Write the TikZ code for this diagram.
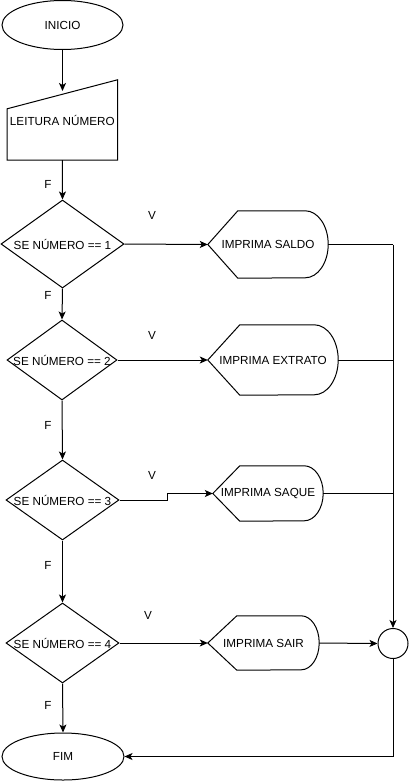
\documentclass[tikz,border=0pt]{standalone}
\usepackage{fontspec}
\setmainfont{Liberation Sans}
\usetikzlibrary{shapes.geometric,arrows.meta,calc}
\begin{document}
\begin{tikzpicture}[x=1pt,y=1pt,
  every node/.style={font=\fontsize{11.7}{14}\selectfont, text=black},
  line/.style={line width=1pt, draw=black},
  arr/.style={line, -{Stealth[length=8pt,width=7pt,inset=2pt]}},
  term/.style={ellipse, line, inner sep=0pt},
  dia/.style={diamond, line, inner sep=0pt, aspect=1.4},
  box/.style={rectangle, inner sep=0pt},
  lbl/.style={inner sep=0pt}
]
\useasboundingbox (0,0) rectangle (409,-781);

% terminals
\node[term, minimum width=121, minimum height=49] (inicio) at (62.5,-25) {INICIO};
\node[term, minimum width=122, minimum height=47] (fim) at (63,-756.5) {FIM};

% manual input
\node[box, minimum width=110, minimum height=80] (leit) at (62.3,-120) {LEITURA NÚMERO};
\draw[line] (leit.south west) -- (leit.south east) -- (leit.north east) -- ($(leit.north west)+(0,-29)$) -- cycle;
\coordinate (leitin) at (62.5,-91);

% diamonds
\node[dia, minimum width=123, minimum height=88] (d1) at (62.5,-244) {};
\node[lbl] (d1t) at (d1) {SE NÚMERO == 1};
\node[dia, minimum width=110, minimum height=80] (d2) at (62,-360) {};
\node[lbl] (d2t) at (d2) {SE NÚMERO == 2};
\node[dia, minimum width=113, minimum height=80] (d3) at (62.5,-500) {};
\node[lbl] (d3t) at (d3) {SE NÚMERO == 3};
\node[dia, minimum width=113, minimum height=80] (d4) at (62.5,-643) {};
\node[lbl] (d4t) at (d4) {SE NÚMERO == 4};

% display shapes: name, left dx, arc x radius, half height
\newcommand{\dispshape}[4]{%
  \draw[line] (#1.west) -- ($(#1.north west)+(#2,0)$) -- ($(#1.north east)+(-#3,0)$)
    arc[start angle=90, end angle=-90, x radius=#3, y radius=#4]
    -- ($(#1.south west)+(#2,0)$) -- cycle;}
\node[box, minimum width=120, minimum height=67] (p1) at (268,-244.5) {IMPRIMA SALDO};
\dispshape{p1}{30}{23}{33.5}
\node[box, minimum width=130, minimum height=70] (p2) at (273,-360) {IMPRIMA EXTRATO};
\dispshape{p2}{32}{24}{35}
\node[box, minimum width=110, minimum height=55] (p3) at (268,-493.5) {IMPRIMA SAQUE};
\dispshape{p3}{27}{19}{27.5}
\node[box, minimum width=111, minimum height=54] (p4) at (263.5,-643) {IMPRIMA SAIR};
\dispshape{p4}{29}{18}{27}

% junction circle
\node[circle, line, minimum size=30, inner sep=0pt] (junc) at (393,-643.5) {};

% labels
\node[lbl] (f0) at (48,-184.5) {F};
\node[lbl] (f1) at (48,-295) {F};
\node[lbl] (f2) at (48,-425) {F};
\node[lbl] (f3) at (48,-565) {F};
\node[lbl] (f4) at (48,-705) {F};
\node[lbl] (v1) at (152,-215) {V};
\node[lbl] (v2) at (152,-335) {V};
\node[lbl] (v3) at (152,-475) {V};
\node[lbl] (v4) at (148,-615) {V};

% helper coordinates
\coordinate (c1) at (393,-244.5);
\coordinate (c2) at (393,-360);
\coordinate (c3) at (393,-493.5);
\coordinate (k1) at (167,-500);
\coordinate (k2) at (167,-493.5);
\coordinate (cb) at (393,-756.5);

% connectors
\draw[arr] (inicio.south) -- (leitin);
\draw[arr] (leit.south) -- (d1.north);
\draw[arr] (d1.east) -- (p1.west);
\draw[arr] (d1.south) -- (d2.north);
\draw[arr] (d2.east) -- (p2.west);
\draw[arr] (d2.south) -- (d3.north);
\draw[arr] (d3.east) -- (k1) -- (k2) -- (p3.west);
\draw[arr] (d3.south) -- (d4.north);
\draw[arr] (d4.east) -- (p4.west);
\draw[arr] (d4.south) -- (fim.north);
\draw[line] (p1.east) -- (c1);
\draw[arr] (c1) -- (junc.north);
\draw[line] (p2.east) -- (c2);
\draw[line] (p3.east) -- (c3);
\draw[arr] (p4.east) -- (junc.west);
\draw[arr] (junc.south) -- (cb) -- (fim.east);
\end{tikzpicture}
\end{document}
